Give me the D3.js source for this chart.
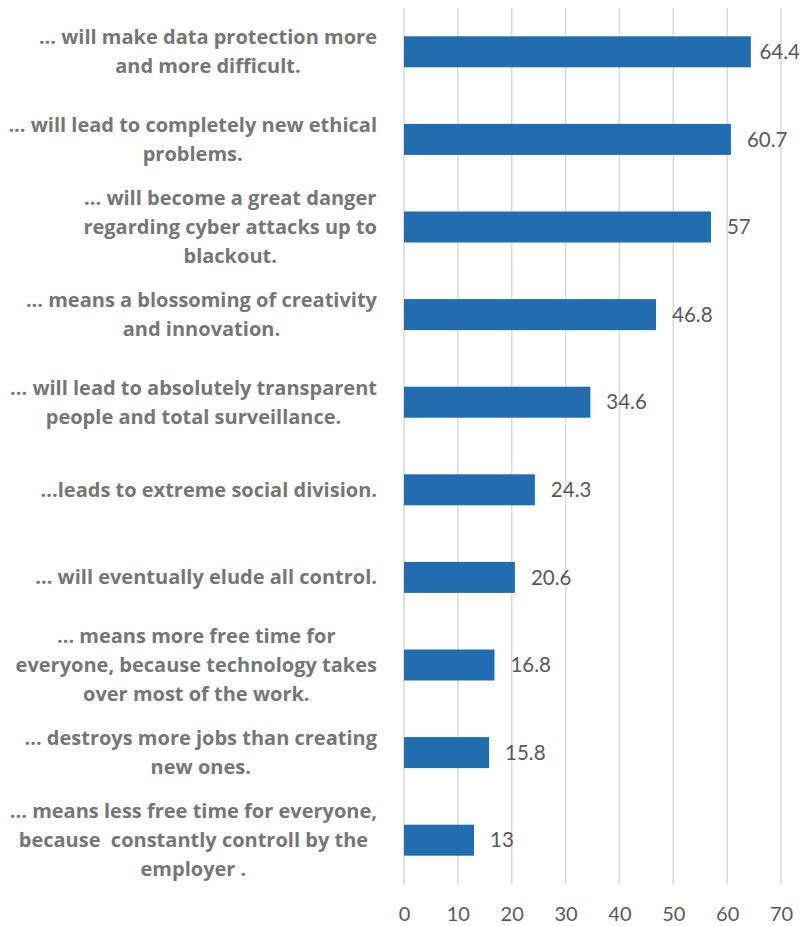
<!DOCTYPE html>
<html>
<head>
<meta charset="utf-8">
<script src="https://cdn.jsdelivr.net/npm/d3@7"></script>
<style>
  body { margin: 0; background: #fff; }
  svg { display: block; }
</style>
</head>
<body>
<div id="chart"></div>
<script>
// datos -------------------------------------------------------------
const categorias = [
  ["... will make data protection more", "and more difficult."],
  ["... will lead to completely new ethical", "problems."],
  ["... will become a great danger", "regarding cyber attacks up to", "blackout."],
  ["... means a blossoming of creativity", "and innovation."],
  ["... will lead to absolutely transparent", "people and total surveillance."],
  ["...leads to extreme social division."],
  ["... will eventually elude all control."],
  ["... means more free time for", "everyone, because technology takes", "over most of the work."],
  ["... destroys more jobs than creating", "new ones."],
  ["... means less free time for everyone,", "because  constantly controll by the", "employer ."]
];
const valores = [64.4, 60.7, 57, 46.8, 34.6, 24.3, 20.6, 16.8, 15.8, 13];
const ticks = [0, 10, 20, 30, 40, 50, 60, 70];

const WIDTH = 804;
const HEIGHT = 926;
const margin = { top: 8, right: 23, bottom: 42, left: 404 };

const svg = d3.select("#chart").append("svg")
  .attr("width", WIDTH).attr("height", HEIGHT);

const x = d3.scaleLinear()
  .domain([0, 70])
  .range([margin.left, WIDTH - margin.right]);

const y = d3.scaleBand()
  .domain(d3.range(categorias.length))
  .range([margin.top, HEIGHT - margin.bottom])
  .paddingInner(0.646)
  .paddingOuter(0.323);

// grilla vertical
svg.selectAll("line.grid")
  .data(ticks)
  .enter()
  .append("line")
  .attr("class", "grid")
  .attr("x1", d => x(d)).attr("x2", d => x(d))
  .attr("y1", margin.top).attr("y2", HEIGHT - margin.bottom)
  .attr("stroke", "#d9d9d9")
  .attr("stroke-width", 1.5);

// eje x (solo etiquetas)
const ejeX = svg.append("g")
  .attr("transform", `translate(0, ${HEIGHT - margin.bottom})`)
  .call(d3.axisBottom(x).tickValues(ticks).tickSize(0).tickPadding(23));
ejeX.select(".domain").remove();
ejeX.selectAll("text")
  .attr("fill", "#595959")
  .style("font-family", "Lato, sans-serif")
  .style("font-size", "20px");

// barras
svg.selectAll("rect.barra")
  .data(valores)
  .enter()
  .append("rect")
  .attr("class", "barra")
  .attr("x", x(0))
  .attr("y", (d, i) => y(i))
  .attr("width", d => x(d) - x(0))
  .attr("height", y.bandwidth())
  .attr("fill", "#226cb0");

// etiquetas de valor
svg.selectAll("text.valor")
  .data(valores)
  .enter()
  .append("text")
  .attr("class", "valor")
  .attr("x", d => x(d) + 16)
  .attr("y", (d, i) => y(i) + y.bandwidth() / 2)
  .attr("dy", "0.35em")
  .attr("fill", "#595959")
  .style("font-family", "Lato, sans-serif")
  .style("font-size", "20.5px")
  .text(d => d)
  .each(function () {
    const w = this.getComputedTextLength();
    const xi = +d3.select(this).attr("x");
    if (xi + w > WIDTH - 4) d3.select(this).attr("x", WIDTH - 4 - w);
  });

// etiquetas de categoría (bloque alineado a la derecha, líneas centradas)
const lineH = 29;
const bordeDerecho = 377;
categorias.forEach((lineas, i) => {
  const g = svg.append("g");
  const cy = y(i) + y.bandwidth() / 2;
  const textos = lineas.map((l, j) => g.append("text")
    .attr("y", cy + (j - (lineas.length - 1) / 2) * lineH)
    .attr("dy", "0.35em")
    .attr("text-anchor", "middle")
    .attr("fill", "#767676")
    .style("font-family", "'Open Sans', sans-serif")
    .style("font-weight", "bold")
    .style("font-size", "20px")
    .style("white-space", "pre")
    .text(l));
  const anchoMax = d3.max(textos, t => t.node().getComputedTextLength());
  textos.forEach(t => t.attr("x", bordeDerecho - anchoMax / 2));
});
</script>
</body>
</html>
